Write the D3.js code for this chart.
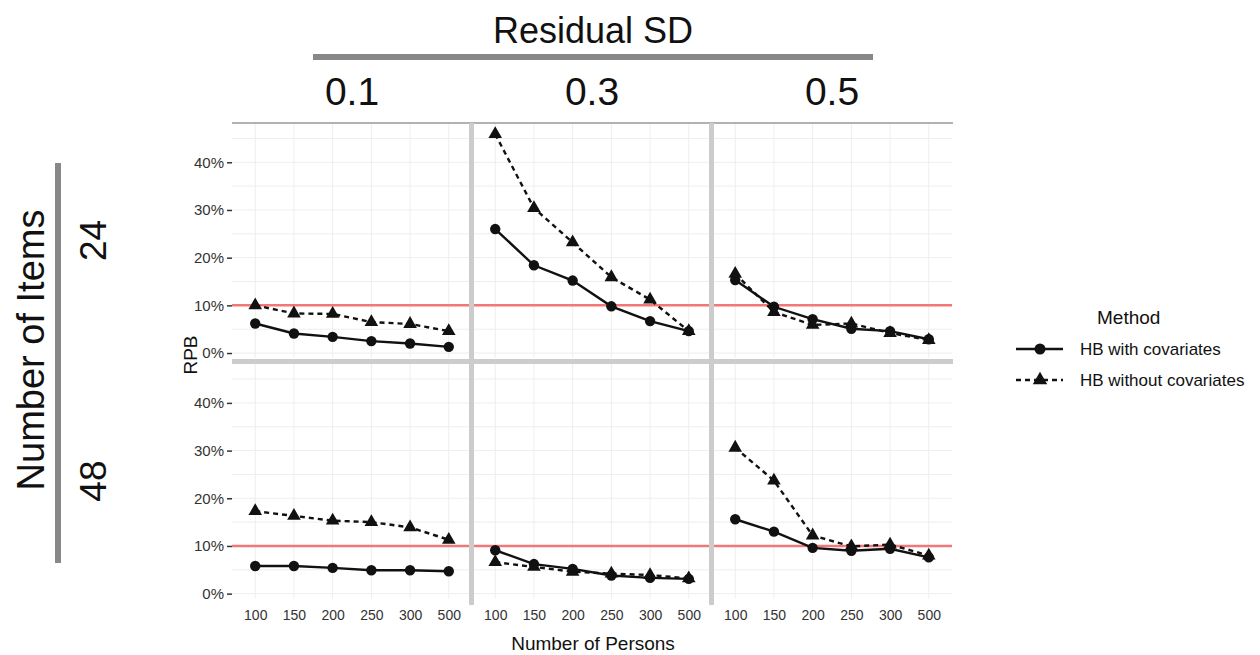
<!DOCTYPE html>
<html>
<head>
<meta charset="utf-8">
<script src="https://cdn.jsdelivr.net/npm/d3@7"></script>
<style>
  body { margin: 0; background: #fff; }
  text { font-family: "Liberation Sans", Arial, sans-serif; }
</style>
</head>
<body>
<svg id="chart" width="1260" height="655"></svg>
<script>
// Facetted RPB chart
// -----------------

var persons = ["100", "150", "200", "250", "300", "500"];
var residualSD = ["0.1", "0.3", "0.5"];
var items = ["24", "48"];
var yTicks = [0, 0.1, 0.2, 0.3, 0.4];
var methods = ["HB with covariates", "HB without covariates"];

// values read per panel (items x residual SD)
var withCov_24_01 = [0.062, 0.041, 0.034, 0.025, 0.020, 0.013];
var withoutCov_24_01 = [0.100, 0.083, 0.082, 0.065, 0.061, 0.046];
var withCov_24_03 = [0.260, 0.184, 0.152, 0.098, 0.067, 0.046];
var withoutCov_24_03 = [0.459, 0.304, 0.232, 0.159, 0.112, 0.046];
var withCov_24_05 = [0.153, 0.097, 0.071, 0.051, 0.046, 0.029];
var withoutCov_24_05 = [0.166, 0.086, 0.059, 0.062, 0.042, 0.027];
var withCov_48_01 = [0.058, 0.058, 0.054, 0.049, 0.049, 0.047];
var withoutCov_48_01 = [0.173, 0.163, 0.153, 0.150, 0.139, 0.113];
var withCov_48_03 = [0.091, 0.062, 0.052, 0.038, 0.033, 0.031];
var withoutCov_48_03 = [0.066, 0.056, 0.046, 0.042, 0.039, 0.032];
var withCov_48_05 = [0.156, 0.130, 0.096, 0.090, 0.094, 0.076];
var withoutCov_48_05 = [0.306, 0.237, 0.122, 0.099, 0.103, 0.080];

var panels = [
  [[withCov_24_01, withoutCov_24_01], [withCov_24_03, withoutCov_24_03], [withCov_24_05, withoutCov_24_05]],
  [[withCov_48_01, withoutCov_48_01], [withCov_48_03, withoutCov_48_03], [withCov_48_05, withoutCov_48_05]]
];

var threshold = 0.1;

var svg = d3.select("#chart");

var colX = [232, 472, 712], colW = 240;
var rowY = [123, 363.6], rowH = 235;
var yDomain = [-0.0104, 0.4824];

var dashes = [null, "5,4"];
var ink = "#111";

var gridLayer = svg.append("g"),
    sepLayer = svg.append("g"),
    markLayer = svg.append("g");

function symbolFor(k, big) {
  return d3.symbol()
    .type(k === 0 ? d3.symbolCircle : d3.symbolTriangle)
    .size(k === 0 ? (big ? 95 : 85) : (big ? 90 : 80));
}

residualSD.forEach(function(sd, c) {
  items.forEach(function(it, r) {
    var x = d3.scalePoint().domain(persons)
      .range([colX[c], colX[c] + colW]).padding(0.6);
    var y = d3.scaleLinear().domain(yDomain)
      .range([rowY[r] + rowH, rowY[r]]);

    var g = gridLayer.append("g");
    // minor + major horizontal grid
    d3.range(0, 0.46, 0.05).forEach(function(v) {
      g.append("line")
        .attr("x1", colX[c]).attr("x2", colX[c] + colW)
        .attr("y1", y(v)).attr("y2", y(v))
        .attr("stroke", "#eeeeee").attr("stroke-width", 1);
    });
    persons.forEach(function(p) {
      g.append("line")
        .attr("x1", x(p)).attr("x2", x(p))
        .attr("y1", rowY[r]).attr("y2", rowY[r] + rowH)
        .attr("stroke", "#eeeeee").attr("stroke-width", 1);
    });

    // reference line at 10%
    g.append("line")
      .attr("x1", colX[c]).attr("x2", colX[c] + colW)
      .attr("y1", y(threshold)).attr("y2", y(threshold))
      .attr("stroke", "#f47777").attr("stroke-width", 2.5);

    // y axis only on the left column
    if (c === 0) {
      var ax = svg.append("g")
        .attr("transform", "translate(" + colX[0] + ",0)")
        .call(d3.axisLeft(y).tickValues(yTicks).tickFormat(d3.format(".0%"))
          .tickSize(5).tickPadding(3));
      ax.select(".domain").remove();
      ax.selectAll(".tick line").attr("stroke", "#333").attr("stroke-width", 1.5);
      ax.selectAll("text").attr("fill", "#333").style("font-size", "15px")
        .style("font-family", "Liberation Sans, Arial, sans-serif");
    }
    // x axis only on the bottom row
    if (r === 1) {
      var bx = svg.append("g")
        .attr("transform", "translate(0," + (rowY[1] + rowH) + ")")
        .call(d3.axisBottom(x).tickSize(0).tickPadding(11));
      bx.select(".domain").remove();
      bx.selectAll("text").attr("fill", "#333").style("font-size", "14px")
        .style("font-family", "Liberation Sans, Arial, sans-serif");
    }

    var m = markLayer.append("g");
    panels[r][c].forEach(function(vals, k) {
      var line = d3.line()
        .x(function(d, i) { return x(persons[i]); })
        .y(function(d) { return y(d); });
      m.append("path")
        .attr("d", line(vals))
        .attr("fill", "none")
        .attr("stroke", ink)
        .attr("stroke-width", 2.4)
        .attr("stroke-dasharray", dashes[k]);
      m.selectAll(null).data(vals).enter()
        .append("path")
        .attr("d", symbolFor(k, false))
        .attr("transform", function(d, i) {
          return "translate(" + x(persons[i]) + "," + y(d) + ")";
        })
        .attr("fill", ink);
    });
  });
});

// panel separators and top border
sepLayer.append("line")
  .attr("x1", colX[0]).attr("x2", colX[2] + colW + 1)
  .attr("y1", rowY[0]).attr("y2", rowY[0])
  .attr("stroke", "#999").attr("stroke-width", 1.5);
sepLayer.append("line")
  .attr("x1", colX[0]).attr("x2", colX[2] + colW + 1)
  .attr("y1", 361.5).attr("y2", 361.5)
  .attr("stroke", "#cccccc").attr("stroke-width", 5);
[colX[1], colX[2]].forEach(function(cx) {
  sepLayer.append("line")
    .attr("x1", cx - 0.5).attr("x2", cx - 0.5)
    .attr("y1", rowY[0]).attr("y2", 605)
    .attr("stroke", "#cccccc").attr("stroke-width", 5);
});

// strip labels
svg.append("text").attr("x", 593).attr("y", 43)
  .attr("text-anchor", "middle").style("font-size", "36px")
  .attr("fill", ink).text("Residual SD");
svg.append("line").attr("x1", 313).attr("x2", 873)
  .attr("y1", 57).attr("y2", 57)
  .attr("stroke", "#888").attr("stroke-width", 6);
residualSD.forEach(function(sd, c) {
  svg.append("text").attr("x", colX[c] + colW / 2).attr("y", 105)
    .attr("text-anchor", "middle").style("font-size", "39px")
    .attr("fill", ink).text(sd);
});

svg.append("text")
  .attr("transform", "translate(44,350) rotate(-90)")
  .attr("text-anchor", "middle").style("font-size", "38px")
  .attr("fill", ink).text("Number of Items");
svg.append("line").attr("x1", 58).attr("x2", 58)
  .attr("y1", 163).attr("y2", 563)
  .attr("stroke", "#888").attr("stroke-width", 6);
items.forEach(function(it, r) {
  svg.append("text")
    .attr("transform", "translate(106," + (rowY[r] + rowH / 2) + ") rotate(-90)")
    .attr("text-anchor", "middle").style("font-size", "37px")
    .attr("fill", ink).text(it);
});

// axis titles
svg.append("text")
  .attr("transform", "translate(197,355) rotate(-90)")
  .attr("text-anchor", "middle").style("font-size", "19px")
  .attr("fill", ink).text("RPB");
svg.append("text").attr("x", 593).attr("y", 650)
  .attr("text-anchor", "middle").style("font-size", "19px")
  .attr("fill", ink).text("Number of Persons");

// legend
var legend = svg.append("g");
legend.append("text").attr("x", 1097).attr("y", 324)
  .style("font-size", "19px").attr("fill", ink).text("Method");
methods.forEach(function(name, k) {
  var ly = 349 + k * 31;
  legend.append("line").attr("x1", 1016).attr("x2", 1063)
    .attr("y1", ly).attr("y2", ly)
    .attr("stroke", ink).attr("stroke-width", 2.4)
    .attr("stroke-dasharray", dashes[k]);
  legend.append("path")
    .attr("d", symbolFor(k, true))
    .attr("transform", "translate(1040," + ly + ")")
    .attr("fill", ink);
  legend.append("text").attr("x", 1080).attr("y", ly + 6)
    .style("font-size", "17px").attr("fill", ink).text(name);
});
</script>
</body>
</html>
